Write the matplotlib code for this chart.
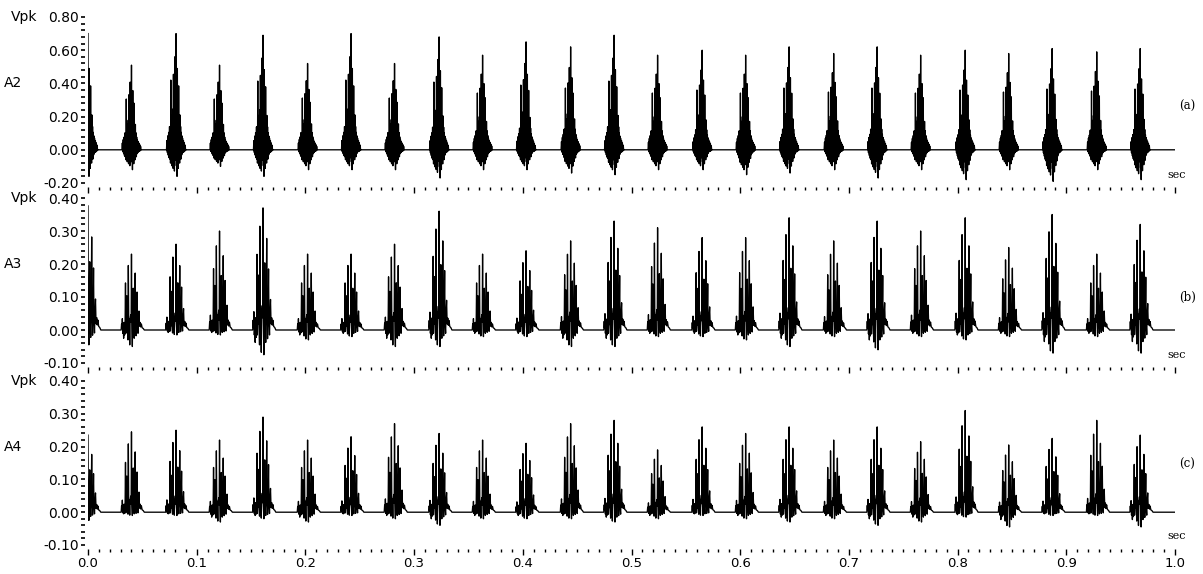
import matplotlib
matplotlib.use("Agg")
import matplotlib.pyplot as plt
from matplotlib.ticker import MultipleLocator, FormatStrFormatter

# burst centre times (sec)
burst_t = [0.000, 0.040, 0.081, 0.121, 0.161, 0.202, 0.242, 0.282, 0.323, 0.363,
           0.403, 0.444, 0.484, 0.524, 0.565, 0.605, 0.645, 0.686, 0.726, 0.766,
           0.807, 0.847, 0.887, 0.928, 0.968]

# peak / trough per burst (Vpk)
a2_peak = [0.70, 0.51, 0.70, 0.51, 0.69, 0.52, 0.70, 0.52, 0.68, 0.57, 0.65, 0.62, 0.69,
           0.57, 0.60, 0.57, 0.62, 0.58, 0.62, 0.57, 0.60, 0.58, 0.61, 0.59, 0.61]
a2_low = [-0.16, -0.12, -0.16, -0.10, -0.16, -0.12, -0.12, -0.12, -0.17, -0.12, -0.12, -0.14, -0.15,
          -0.12, -0.12, -0.15, -0.14, -0.12, -0.17, -0.12, -0.18, -0.12, -0.19, -0.12, -0.18]
a3_peak = [0.376, 0.23, 0.26, 0.30, 0.37, 0.23, 0.23, 0.26, 0.36, 0.23, 0.24, 0.27, 0.33,
           0.31, 0.28, 0.28, 0.34, 0.27, 0.33, 0.30, 0.34, 0.25, 0.35, 0.23, 0.32]
a3_low = [-0.045, -0.05, -0.015, -0.015, -0.075, -0.03, -0.02, -0.05, -0.05, -0.02, -0.02, -0.05, -0.05,
          -0.02, -0.02, -0.03, -0.05, -0.02, -0.06, -0.02, -0.03, -0.02, -0.07, -0.02, -0.07]
a4_peak = [0.235, 0.245, 0.25, 0.22, 0.29, 0.22, 0.23, 0.27, 0.24, 0.22, 0.21, 0.27, 0.28,
           0.19, 0.26, 0.24, 0.26, 0.22, 0.26, 0.215, 0.31, 0.205, 0.225, 0.28, 0.235]
a4_low = [-0.025, -0.01, -0.01, -0.03, -0.02, -0.03, -0.01, -0.02, -0.04, -0.02, -0.02, -0.02, -0.03,
          -0.02, -0.01, -0.02, -0.03, -0.02, -0.04, -0.03, -0.015, -0.045, -0.01, -0.01, -0.045]

# burst shape: offsets (ms) from centre and relative level (+ -> peak, - -> trough)
a_offs = [-8.8, -8.4, -8.0, -7.6, -7.2, -6.8, -6.4, -6.0, -5.7, -5.4, -5.1, -4.8, -4.5, -4.2,
          -3.9, -3.6, -3.3, -3.0, -2.7, -2.4, -2.1, -1.8, -1.5, -1.2, -0.9, -0.6, -0.3, 0.0,
          0.3, 0.6, 0.9, 1.2, 1.5, 1.8, 2.1, 2.4, 2.7, 3.0, 3.3, 3.6, 3.9, 4.2, 4.5, 4.8,
          5.1, 5.4, 5.7, 6.0, 6.4, 6.8, 7.2, 7.6, 8.0, 8.4, 8.8, 9.4]
a_rel = [0.0, 0.08, -0.1, 0.12, -0.2, 0.15, -0.3, 0.2, -0.35, 0.2, -0.5, 0.6, -0.4, 0.25,
         -0.6, 0.3, -0.3, 0.35, -0.7, 0.65, -0.5, 0.3, -0.8, 0.8, -0.4, 0.25, -0.3, 1.0,
         -0.6, 0.3, -1.0, 0.7, -0.5, 0.3, -0.7, 0.55, -0.4, 0.25, -0.5, 0.3, -0.3, 0.2,
         -0.35, 0.15, -0.2, 0.12, -0.15, 0.1, -0.1, 0.08, -0.08, 0.06, -0.05, 0.04, -0.02, 0.0]
b_offs = [-9.5, -9.1, -8.8, -8.4, -8.0, -7.6, -7.2, -6.8, -6.3, -5.9, -5.5, -5.2, -4.8, -4.3,
          -4.0, -3.6, -3.2, -2.9, -2.5, -2.1, -1.6, -1.2, -0.7, -0.3, 0.0, 0.3, 0.8, 1.1,
          1.6, 2.1, 2.5, 3.0, 3.4, 3.8, 4.2, 4.6, 5.1, 5.5, 6.0, 6.4, 6.9, 7.4, 8.0, 8.5,
          9.1, 9.8, 10.8, 11.8]
b_rel = [0.0, 0.08, 0.02, 0.15, -0.2, 0.05, -0.5, 0.1, -0.3, 0.05, 0.62, -0.2, 0.1, 0.45,
         0.05, 0.1, -0.6, 0.85, 0.05, 0.15, -0.9, 0.15, 0.2, 0.1, 1.0, 0.1, -1.0, 0.2,
         0.55, 0.05, -0.5, 0.25, 0.75, 0.1, -0.35, 0.15, 0.5, 0.05, -0.2, 0.15, 0.25, 0.05,
         0.1, 0.04, 0.08, 0.03, 0.02, 0.0]


def build(peaks, lows, offs, rels):
    t, y = [], []
    for c, p, q in zip(burst_t, peaks, lows):
        for o, r in zip(offs, rels):
            tt = c + o / 1000.0
            if tt < 0:
                continue
            t.append(tt)
            y.append(r * p if r >= 0 else -r * q)
    t.append(1.0)
    y.append(0.0)
    return t, y


panels = [
    ("A2", "(a)", a2_peak, a2_low, a_offs, a_rel, (-0.2, 0.8), 0.2, 0.04, 0.40, 0.26, -0.15),
    ("A3", "(b)", a3_peak, a3_low, b_offs, b_rel, (-0.1, 0.4), 0.1, 0.02, 0.20, 0.10, -0.075),
    ("A4", "(c)", a4_peak, a4_low, b_offs, b_rel, (-0.1, 0.4), 0.1, 0.02, 0.20, 0.145, -0.073),
]

W, H = 1203, 574
fig = plt.figure(figsize=(W / 100, H / 100), dpi=100)
# (top px, bottom px) of each panel's y range
rows = [(17, 183), (198, 363), (381, 545)]

for i, (name, tag, pk, lo, offs, rels, ylim, major, minor, name_y, tag_y, sec_y) in enumerate(panels):
    top, bot = rows[i]
    ax = fig.add_axes([88 / W, 1 - bot / H, 1087 / W, (bot - top) / H])
    t, y = build(pk, lo, offs, rels)
    ax.plot(t, y, color="black", lw=0.95)
    ax.set_xlim(0, 1.0)
    ax.set_ylim(*ylim)

    for s in ["top", "right", "left", "bottom"]:
        ax.spines[s].set_visible(False)
    ax.spines["left"].set_position(("outward", 2))
    ax.spines["bottom"].set_position(("outward", 3))

    ax.yaxis.set_major_locator(MultipleLocator(major))
    ax.yaxis.set_minor_locator(MultipleLocator(minor))
    ax.yaxis.set_major_formatter(FormatStrFormatter("%.2f"))
    ax.xaxis.set_major_locator(MultipleLocator(0.1))
    ax.xaxis.set_minor_locator(MultipleLocator(0.01))
    ax.xaxis.set_major_formatter(FormatStrFormatter("%.1f"))
    ax.tick_params(axis="y", which="both", direction="out", length=3, width=1.2,
                   labelsize=10, pad=1.5)
    ax.tick_params(axis="x", which="major", direction="out", length=4, width=1, labelsize=9.5, pad=1.5)
    ax.tick_params(axis="x", which="minor", direction="out", length=2.5, width=1)
    if i < 2:
        ax.tick_params(axis="x", labelbottom=False)

    tr = ax.get_yaxis_transform()
    ax.text(-0.047, ylim[1], "Vpk", transform=tr, ha="right", va="center", fontsize=10)
    ax.text(-0.077, name_y, name, transform=tr, ha="left", va="center", fontsize=10)
    ax.text(1.004, tag_y, tag, transform=tr, ha="left", va="center",
            fontsize=8.5, family="DejaVu Serif")
    ax.text(0.993, sec_y, "sec", transform=tr, ha="left", va="center",
            fontsize=8, family="DejaVu Serif")

fig.savefig("out.png", dpi=100)
